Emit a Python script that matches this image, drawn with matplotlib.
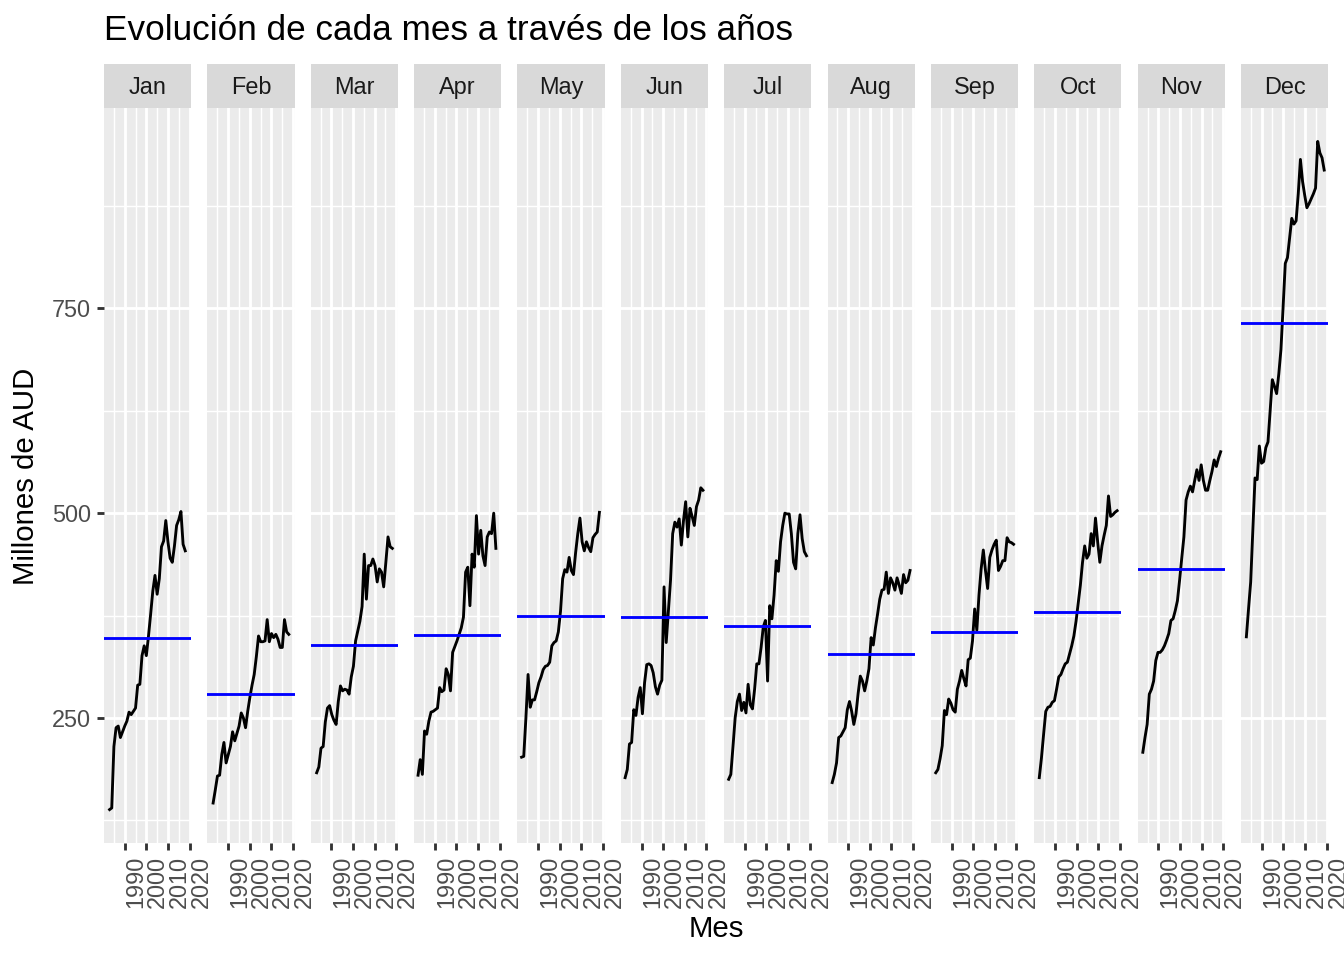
import matplotlib
matplotlib.use("Agg")
import matplotlib.pyplot as plt
import numpy as np

plt.rcParams['font.family'] = ['Liberation Sans', 'DejaVu Sans']

# Values, one list per month
month_names = ["Jan", "Feb", "Mar", "Apr", "May", "Jun",
               "Jul", "Aug", "Sep", "Oct", "Nov", "Dec"]
years_jan_mar = list(range(1983, 2019))   # series starts in April 1982
years_apr_dec = list(range(1982, 2019))

jan = [138, 140, 215, 238, 240, 226, 233, 240, 246, 257, 254, 258, 262, 290, 291, 326, 338, 326,
       350, 377, 405, 424, 401, 420, 459, 466, 491, 465, 445, 440, 460, 485, 492, 502, 462, 454]
feb = [146, 162, 179, 180, 205, 220, 195, 205, 215, 233, 222, 231, 240, 256, 250, 238, 258, 275,
       290, 303, 325, 350, 343, 343, 344, 370, 343, 353, 348, 352, 346, 336, 336, 370, 355, 352]
mar = [183, 190, 213, 215, 245, 262, 265, 254, 247, 242, 270, 289, 283, 285, 284, 279, 300, 313,
       344, 356, 368, 386, 450, 395, 436, 436, 444, 436, 416, 432, 428, 410, 440, 471, 459, 457]
apr = [180, 199, 181, 234, 230, 246, 257, 258, 260, 262, 287, 282, 284, 310, 303, 283, 330, 337, 344,
       352, 360, 373, 428, 434, 387, 450, 434, 497, 450, 479, 448, 436, 471, 477, 475, 500, 457]
may = [202, 203, 250, 303, 263, 272, 272, 282, 293, 300, 309, 313, 314, 318, 338, 342, 344, 355, 380,
       420, 431, 428, 446, 430, 425, 452, 475, 494, 465, 454, 465, 458, 453, 470, 474, 477, 501]
jun = [177, 187, 218, 220, 260, 253, 275, 287, 255, 293, 315, 316, 314, 305, 288, 279, 290, 296, 410,
       342, 380, 418, 475, 489, 483, 493, 461, 491, 514, 471, 506, 496, 485, 508, 516, 531, 528]
jul = [175, 181, 215, 250, 270, 279, 259, 269, 256, 291, 266, 261, 285, 316, 316, 336, 361, 369, 295,
       387, 371, 400, 442, 429, 465, 485, 500, 499, 499, 475, 440, 432, 475, 498, 469, 453, 448]
aug = [171, 181, 195, 226, 228, 233, 238, 260, 270, 258, 242, 255, 280, 301, 295, 283, 295, 310, 348,
       339, 360, 377, 395, 406, 407, 428, 402, 421, 415, 406, 421, 412, 402, 425, 415, 418, 430]
sep = [183, 187, 200, 216, 259, 254, 273, 268, 260, 257, 285, 295, 308, 298, 289, 321, 323, 344, 383,
       357, 400, 432, 455, 430, 408, 446, 455, 462, 467, 430, 435, 442, 442, 470, 465, 464, 462]
oct_ = [177, 201, 230, 258, 263, 264, 269, 271, 285, 300, 303, 310, 316, 318, 328, 338, 350, 368, 390,
        412, 440, 460, 445, 450, 475, 460, 494, 465, 440, 460, 473, 485, 521, 496, 498, 501, 503]
nov = [208, 226, 242, 279, 285, 295, 320, 330, 330, 333, 338, 345, 353, 369, 371, 381, 393, 418, 445,
       471, 516, 526, 533, 526, 540, 553, 540, 559, 540, 528, 528, 540, 551, 565, 557, 567, 575]
dec = [349, 383, 416, 480, 543, 541, 582, 561, 563, 580, 587, 625, 663, 655, 646, 670, 700, 752, 805,
       812, 836, 860, 853, 857, 890, 932, 905, 888, 873, 878, 884, 890, 897, 954, 940, 934, 919]

series = [jan, feb, mar, apr, may, jun, jul, aug, sep, oct_, nov, dec]

title = "Evolución de cada mes a través de los años"
xlabel = "Mes"
ylabel = "Millones de AUD"

# time index of each point: year + month offset (as in a yearmonth axis)
xs = []
for m, vals in enumerate(series):
    yrs = years_jan_mar if m < 3 else years_apr_dec
    xs.append(np.array(yrs) + m / 12)

all_x = np.concatenate(xs)
all_y = np.concatenate([np.array(v) for v in series])
xr = all_x.max() - all_x.min()
yr = all_y.max() - all_y.min()
xlim = (all_x.min() - 0.05 * xr, all_x.max() + 0.05 * xr)
ylim = (all_y.min() - 0.05 * yr, all_y.max() + 0.05 * yr)

# layout in pixels (figure is 1344x960)
W, H = 1344, 960
panel_left0 = 104
panel_w = 87.2
step = 103.36
panel_top = 108
panel_bottom = 843
strip_top = 64

fig = plt.figure(figsize=(7, 5), dpi=192)

for i, name in enumerate(month_names):
    left = panel_left0 + i * step
    ax = fig.add_axes([left / W, 1 - panel_bottom / H, panel_w / W, (panel_bottom - panel_top) / H])
    ax.set_facecolor('#EBEBEB')
    for s in ax.spines.values():
        s.set_visible(False)
    ax.set_xlim(xlim)
    ax.set_ylim(ylim)
    ax.set_xticks([1990, 2000, 2010, 2020])
    ax.set_xticks([1985, 1995, 2005, 2015], minor=True)
    ax.set_yticks([250, 500, 750])
    ax.set_yticks([125, 375, 625, 875], minor=True)
    ax.grid(which='major', color='white', linewidth=1.07)
    ax.grid(which='minor', color='white', linewidth=0.53)
    ax.set_axisbelow(True)
    ax.tick_params(which='minor', length=0)
    ax.tick_params(which='major', length=2.75, width=1.07, color='#333333',
                   labelcolor='#4D4D4D', labelsize=8.8, pad=2.2)
    ax.set_xticklabels(['1990', '2000', '2010', '2020'], rotation=90, ha='left', va='top')
    if i > 0:
        ax.tick_params(axis='y', left=False, labelleft=False)

    vals = series[i]
    ax.plot(xs[i], vals, color='black', linewidth=1.07, zorder=3)
    ax.axhline(np.mean(vals), color='blue', linewidth=1.07, zorder=4)

    strip = fig.add_axes([left / W, 1 - panel_top / H, panel_w / W, (panel_top - strip_top) / H])
    strip.set_facecolor('#D9D9D9')
    strip.set_xticks([])
    strip.set_yticks([])
    for s in strip.spines.values():
        s.set_visible(False)
    strip.text(0.5, 0.46, name, ha='center', va='center', fontsize=8.8, color='#1A1A1A',
               transform=strip.transAxes)

fig.text(panel_left0 / W, 1 - 30 / H, title, ha='left', va='center', fontsize=13.2, color='black')
fig.text(716 / W, 1 - 929 / H, xlabel, ha='center', va='center', fontsize=11, color='black')
fig.text(26 / W, 1 - 476 / H, ylabel, ha='center', va='center', rotation=90, fontsize=11, color='black')

fig.savefig('out.png', dpi=192)
